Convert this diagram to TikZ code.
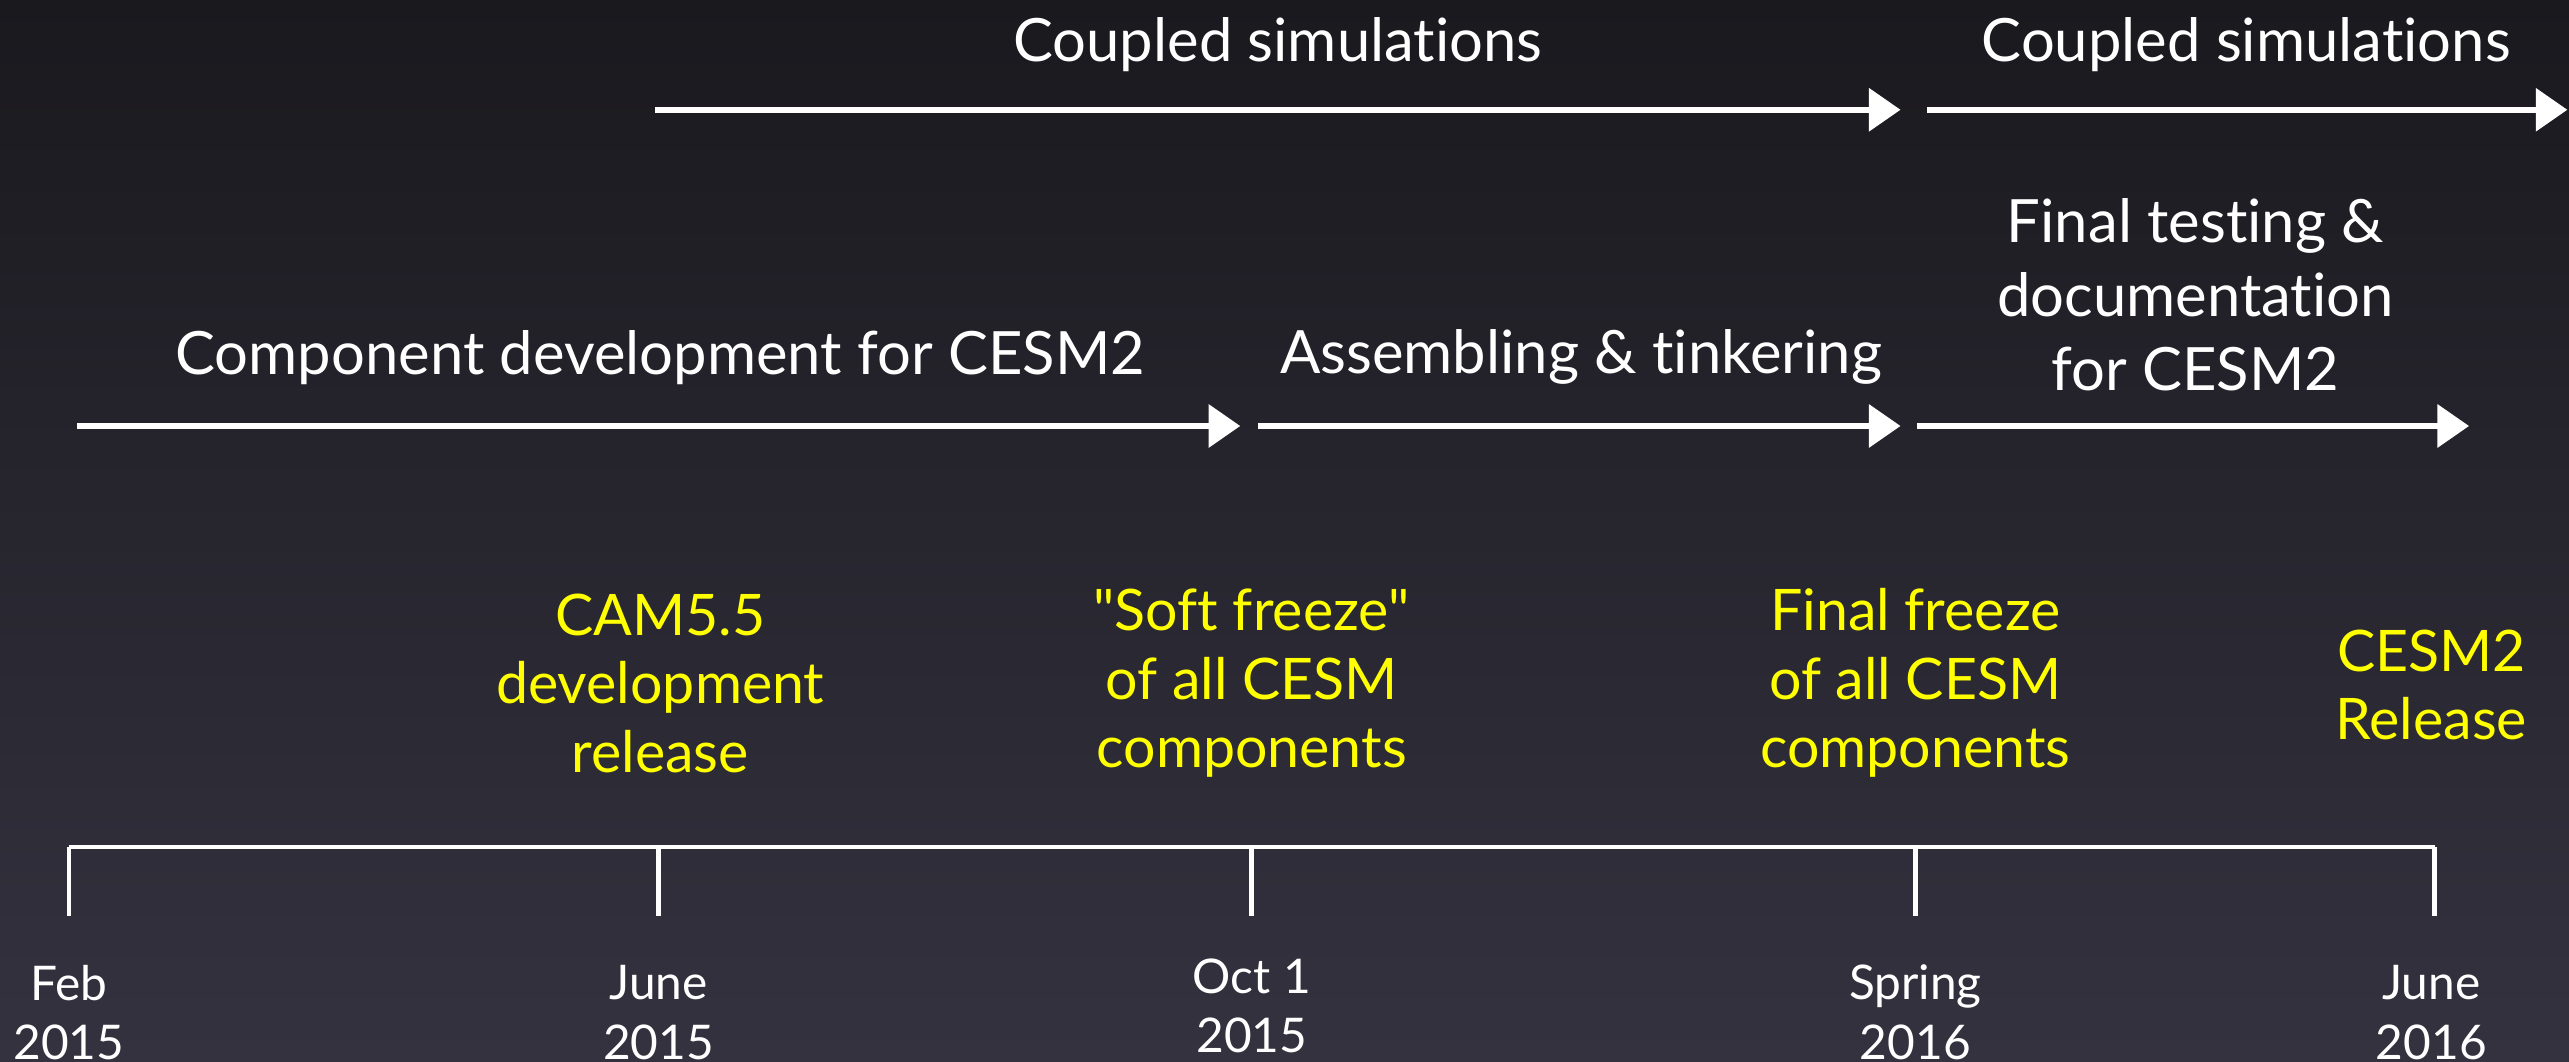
\documentclass[tikz,border=0pt]{standalone}
\usepackage{fontspec}
\setmainfont{Lato}[Ligatures=NoCommon]
\usetikzlibrary{arrows.meta}
\definecolor{bgtop}{HTML}{1A191E}
\definecolor{bgbot}{HTML}{34323F}
\definecolor{milestone}{HTML}{FFFF00}
\begin{document}
\begin{tikzpicture}[x=0.016384cm,y=-0.016384cm,
  phase/.style={draw=white,line width=1.7pt,-{Triangle[length=9pt,width=12pt]}},
  axis/.style={draw=white,line width=1.3pt},
  phaselabel/.style={text=white,font=\fontsize{17}{21}\selectfont,align=center,inner sep=0pt},
  mslabel/.style={text=milestone,font=\fontsize{16.3}{19.5}\selectfont,align=center,inner sep=0pt},
  datelabel/.style={text=white,font=\fontsize{13.6}{17}\selectfont,align=center,inner sep=0pt}]
% background
\shade[top color=bgtop,bottom color=bgbot] (0,0) rectangle (1568,648);
\useasboundingbox (0,0) rectangle (1568,648);

% coupled simulation phases
\coordinate (c1s) at (400,67);  \coordinate (c1e) at (1160,67);
\coordinate (c2s) at (1176,67); \coordinate (c2e) at (1567,67);
\draw[phase] (c1s) -- (c1e);
\draw[phase] (c2s) -- (c2e);
\node[phaselabel] (cpl1) at (780,27) {Coupled simulations};
\node[phaselabel] (cpl2) at (1371,27) {Coupled simulations};

% development phases
\coordinate (d1s) at (47,260);   \coordinate (d1e) at (757,260);
\coordinate (d2s) at (768,260);  \coordinate (d2e) at (1160,260);
\coordinate (d3s) at (1170,260); \coordinate (d3e) at (1507,260);
\draw[phase] (d1s) -- (d1e);
\draw[phase] (d2s) -- (d2e);
\draw[phase] (d3s) -- (d3e);
\node[phaselabel] (dev) at (403,218) {Component development for CESM2};
\node[phaselabel] (asm) at (965,218) {Assembling \& tinkering};
\node[phaselabel] (fin) at (1340,180) {Final testing \&\\documentation\\for CESM2};

% timeline axis
\coordinate (t1) at (42,517);
\coordinate (t2) at (402,517);
\coordinate (t3) at (764,517);
\coordinate (t4) at (1169,517);
\coordinate (t5) at (1486,517);
\draw[axis] (t1) -- (t5);
\foreach \t in {t1,t2,t3,t4,t5}
  \draw[axis] (\t) -- ++(0,42);

% dates
\node[datelabel] (feb15) at (42,618) {Feb\\2015};
\node[datelabel] (jun15) at (402,618) {June\\2015};
\node[datelabel] (oct15) at (764,614) {Oct 1\\2015};
\node[datelabel] (spr16) at (1169,618) {Spring\\2016};
\node[datelabel] (jun16) at (1484,618) {June\\2016};

% milestones
\node[mslabel] (cam) at (403,417) {CAM5.5\\development\\release};
\node[mslabel] (soft) at (764,417) {\textquotedbl Soft freeze\textquotedbl\\of all CESM\\components};
\node[mslabel] (final) at (1169,417) {Final freeze\\of all CESM\\components};
\node[mslabel] (rel) at (1484,418) {CESM2\\Release};
\end{tikzpicture}
\end{document}
